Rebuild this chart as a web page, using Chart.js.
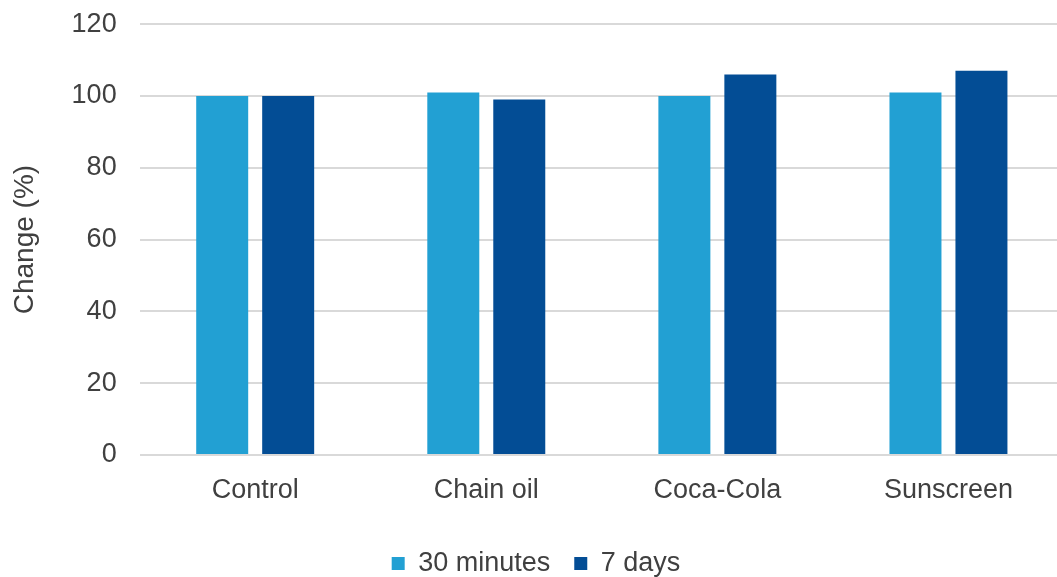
<!DOCTYPE html>
<html>
<head>
<meta charset="utf-8">
<script src="https://cdn.jsdelivr.net/npm/chart.js@4/dist/chart.umd.min.js"></script>
<style>
  html, body { margin: 0; padding: 0; background: #fff; overflow: hidden; }
  #wrap { width: 1064px; height: 602px; position: relative; margin-top: -15px; }
</style>
</head>
<body>
<div id="wrap"><canvas id="chart"></canvas></div>
<script>
// データ
const categories = ['Control', 'Chain oil', 'Coca-Cola', 'Sunscreen'];
const seriesNames = ['30 minutes', '7 days'];
const thirtyMinutes = [100, 101, 100, 101];
const sevenDays = [100, 99, 106, 107];
const yTicks = [0, 20, 40, 60, 80, 100, 120];

const textColor = '#404040';
const fontFamily = "'Liberation Sans', Arial, sans-serif";

const ctx = document.getElementById('chart').getContext('2d');
new Chart(ctx, {
    type: 'bar',
    data: {
        labels: categories,
        datasets: [
            {
                label: seriesNames[0],
                data: thirtyMinutes,
                backgroundColor: '#22A0D3',
                barPercentage: 0.788,
                categoryPercentage: 0.571
            },
            {
                label: seriesNames[1],
                data: sevenDays,
                backgroundColor: '#034D95',
                barPercentage: 0.788,
                categoryPercentage: 0.571
            }
        ]
    },
    options: {
        responsive: true,
        maintainAspectRatio: false,
        animation: false,
        layout: { padding: { left: 8, right: 0, top: 0, bottom: 0 } },
        plugins: {
            legend: {
                position: 'bottom',
                labels: {
                    boxWidth: 13,
                    boxHeight: 13,
                    padding: 24,
                    color: textColor,
                    font: { family: fontFamily, size: 27 }
                }
            },
            tooltip: { enabled: false }
        },
        scales: {
            x: {
                grid: { display: false },
                border: { display: false },
                afterFit: (axis) => { axis.height = 71; },
                ticks: {
                    color: textColor,
                    padding: 11,
                    font: { family: fontFamily, size: 27 }
                }
            },
            y: {
                min: 0,
                max: 120,
                afterBuildTicks: (axis) => {
                    axis.ticks = yTicks.map(v => ({ value: v }));
                },
                grid: { color: '#d9d9d9', lineWidth: 2, drawTicks: false },
                border: { display: false },
                ticks: {
                    color: textColor,
                    padding: 23,
                    font: { family: fontFamily, size: 27 }
                },
                title: {
                    display: true,
                    text: 'Change (%)',
                    color: textColor,
                    padding: { top: 0, bottom: 7 },
                    font: { family: fontFamily, size: 28 }
                }
            }
        }
    }
});
</script>
</body>
</html>
